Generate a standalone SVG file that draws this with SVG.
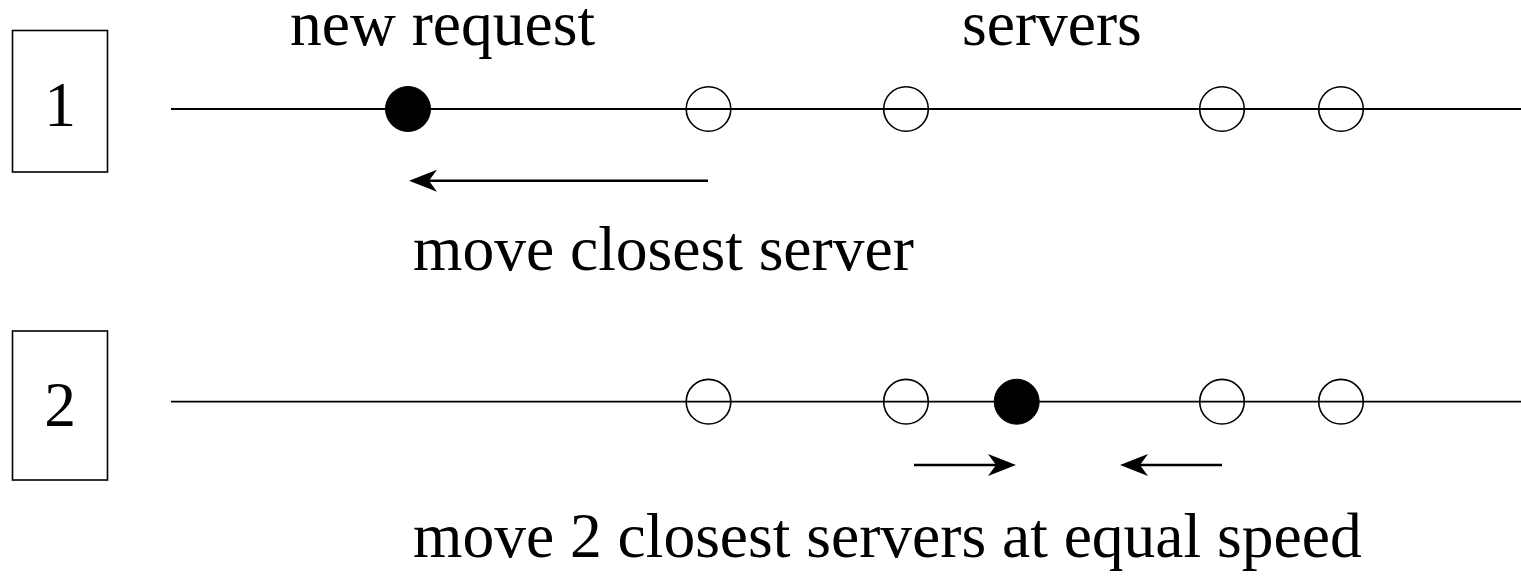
<svg xmlns="http://www.w3.org/2000/svg" width="1521" height="581" viewBox="0 0 1521 581">
<style>
.box{fill:#fff;stroke:#000;stroke-width:1.6}
.axis{stroke:#000;stroke-width:1.8;fill:none}
.srv{fill:#fff;fill-opacity:0;stroke:#000;stroke-width:1.6}
.req{fill:#000;stroke:#000;stroke-width:1}
.arr{stroke:#000;stroke-width:2.6;fill:none;marker-end:url(#ah)}
text{font-family:"Liberation Serif","Times New Roman",serif;fill:#000;font-size:63.5px}
</style>
<defs>
<marker id="ah" markerUnits="userSpaceOnUse" viewBox="-29 -12 30 24" refX="-20" refY="0" markerWidth="30" markerHeight="24" orient="auto">
<path d="M0,0 L-28,-11 L-20,0 L-28,11 Z" fill="#000"/>
</marker>
</defs>
<g id="row1">
<g id="box1"><rect class="box" x="12.5" y="30.5" width="95" height="141.5"/><text x="60" y="126" text-anchor="middle">1</text></g>
<line class="axis" x1="171" y1="109" x2="1521" y2="109"/>
<g id="req1"><circle class="req" cx="408" cy="109" r="22.5"/></g>
<g id="s1a"><circle class="srv" cx="708.5" cy="109" r="22.3"/></g>
<g id="s1b"><circle class="srv" cx="906" cy="109" r="22.3"/></g>
<g id="s1c"><circle class="srv" cx="1222" cy="109" r="22.3"/></g>
<g id="s1d"><circle class="srv" cx="1341" cy="109" r="22.3"/></g>
<text id="lbl-new" x="290" y="45">new request</text>
<text id="lbl-servers" x="962" y="45">servers</text>
<text id="lbl-move1" x="413" y="270">move closest server</text>
</g>
<g id="row2">
<g id="box2"><rect class="box" x="12.5" y="331" width="95" height="149"/><text x="60" y="426" text-anchor="middle">2</text></g>
<line class="axis" x1="171" y1="401.7" x2="1521" y2="401.7"/>
<g id="s2a"><circle class="srv" cx="708.5" cy="401.7" r="22.3"/></g>
<g id="s2b"><circle class="srv" cx="906" cy="401.7" r="22.3"/></g>
<g id="req2"><circle class="req" cx="1016.7" cy="401.7" r="22.5"/></g>
<g id="s2c"><circle class="srv" cx="1222" cy="401.7" r="22.3"/></g>
<g id="s2d"><circle class="srv" cx="1341" cy="401.7" r="22.3"/></g>
<text id="lbl-move2" x="413" y="557">move 2 closest servers at equal speed</text>
</g>
<g id="connectors">
<line class="arr" x1="708" y1="180.7" x2="429" y2="180.7"/>
<line class="arr" x1="914" y1="465" x2="996" y2="465"/>
<line class="arr" x1="1222" y1="465" x2="1140" y2="465"/>
</g>
</svg>
